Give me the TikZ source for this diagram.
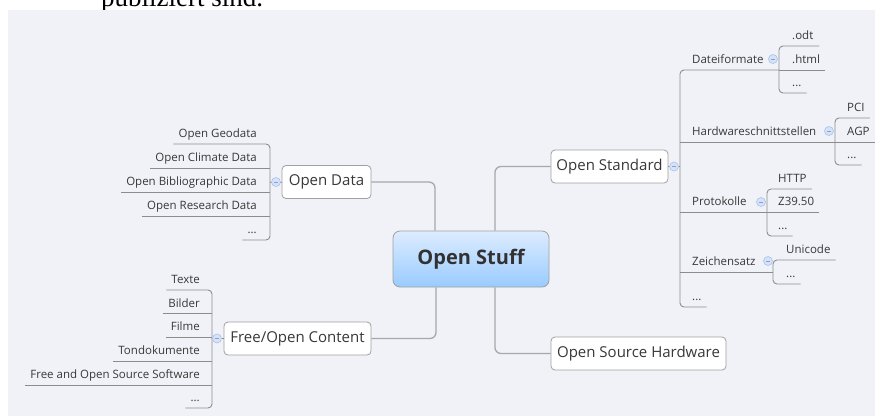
\documentclass[tikz,border=0pt]{standalone}
\usepackage{fontspec}
\newfontfamily\mmfont{Open Sans}
\newfontfamily\serfont{Liberation Serif}
\usetikzlibrary{calc}
\definecolor{bgc}{HTML}{F1F2F7}
\definecolor{connc}{HTML}{A8A8A8}
\definecolor{ulc}{HTML}{8C8C8C}
\definecolor{bordc}{HTML}{A0A0A0}
\definecolor{txtc}{HTML}{383838}
\definecolor{collf}{HTML}{D6E3F6}
\definecolor{colld}{HTML}{A9C2E8}
\definecolor{ctop}{HTML}{DDECFF}
\definecolor{cbot}{HTML}{99CBFF}
\tikzset{
  topic/.style={draw=bordc, fill=white, rounded corners=4pt, line width=0.8pt,
    font=\mmfont\fontsize{15}{18}\selectfont, text=txtc, inner sep=0pt, minimum height=33pt},
  centraltopic/.style={draw=bordc, top color=ctop, bottom color=cbot, rounded corners=7pt,
    line width=0.8pt, font=\mmfont\bfseries\fontsize{20}{24}\selectfont, text=txtc!90!black,
    inner sep=0pt, minimum width=156pt, minimum height=56pt},
  leaf/.style={font=\mmfont\fontsize{11.5}{13}\selectfont, text=txtc, inner xsep=5pt,
    inner ysep=3pt, text height=9pt, text depth=3pt},
  lleaf/.style={leaf, anchor=south east},
  rleaf/.style={leaf, anchor=south west},
  conn/.style={draw=connc, line width=1.3pt, rounded corners=6pt},
  uline/.style={draw=ulc, line width=0.9pt},
  collapse/.style={circle, fill=collf, draw=colld, line width=0.6pt, inner sep=0pt,
    minimum size=9pt,
    path picture={\draw[colld!80!blue, line width=0.8pt]
      ([xshift=-2.2pt]path picture bounding box.center) -- ([xshift=2.2pt]path picture bounding box.center);}},
}
\begin{document}
\begin{tikzpicture}[x=1pt,y=-1pt]
\useasboundingbox (0,0) rectangle (875,416);
\fill[white] (0,0) rectangle (875,416);
\begin{scope}
  \clip (0,0) rectangle (875,10);
  \node[anchor=base west, inner sep=0pt, font=\serfont\fontsize{27}{30}\selectfont] (pub) at (101,6.5) {publiziert sind.};
\end{scope}
\fill[bgc] (8,10) rectangle (875,416);

% main topics
\node[centraltopic] (central) at (471,259) {Open Stuff};
\node[topic, minimum width=89pt] (od) at (326.5,182) {Open Data};
\node[topic, minimum width=147pt] (foc) at (297.5,338.5) {Free/Open Content};
\node[topic, minimum width=117pt] (os) at (609.5,166.5) {Open Standard};
\node[topic, minimum width=175pt] (osh) at (638.5,353.5) {Open Source Hardware};

% main connectors
\draw[conn] (od.east) -| ([xshift=-36pt]central.north);
\draw[conn] (foc.east) -| ([xshift=-35pt]central.south);
\draw[conn] (os.west) -| ([xshift=24pt]central.north);
\draw[conn] (osh.west) -| ([xshift=24pt]central.south);

% ---------- Open Data ----------
\coordinate (odbar) at (270,182);
\node[lleaf] (od1) at (262,144) {Open Geodata};
\node[lleaf] (od2) at (262,168) {Open Climate Data};
\node[lleaf] (od3) at (262,192) {Open Bibliographic Data};
\node[lleaf] (od4) at (262,216) {Open Research Data};
\node[lleaf] (od5) at (262,240) {...};
\draw[uline, rounded corners=4pt] (od1.south west) -- (od1.south west -| odbar) -- (od5.south west -| odbar) -- (od5.south west);
\foreach \n in {od2,od3,od4} \draw[uline] (\n.south west) -- (\n.south west -| odbar);
\draw[uline] (od.west) -- (odbar);
\node[collapse] (odc) at (276,182) {};

% ---------- Free/Open Content ----------
\coordinate (focbar) at (212,338.5);
\node[lleaf] (fc1) at (205,290) {Texte};
\node[lleaf] (fc2) at (205,313.5) {Bilder};
\node[lleaf] (fc3) at (205,337) {Filme};
\node[lleaf] (fc4) at (205,361) {Tondokumente};
\node[lleaf] (fc5) at (205,385) {Free and Open Source Software};
\node[lleaf] (fc6) at (205,408) {...};
\draw[uline, rounded corners=4pt] (fc1.south west) -- (fc1.south west -| focbar) -- (fc6.south west -| focbar) -- (fc6.south west);
\foreach \n in {fc2,fc3,fc4,fc5} \draw[uline] (\n.south west) -- (\n.south west -| focbar);
\draw[uline] (foc.west) -- (focbar);
\node[collapse] (focc) at (217,338.5) {};

% ---------- Open Standard ----------
\coordinate (osbar) at (680,166.5);
\coordinate (dfbar) at (779,70);
\coordinate (hwbar) at (835,142);
\coordinate (prbar) at (767,212);
\coordinate (zsbar) at (773,272);
\node[rleaf] (df) at (687,70) {Dateiformate};
\node[rleaf] (hw) at (687,142) {Hardwareschnittstellen};
\node[rleaf] (pr) at (687,212) {Protokolle};
\node[rleaf] (zs) at (687,272) {Zeichensatz};
\node[rleaf] (osl) at (687,307) {...};
\draw[uline, rounded corners=4pt] (df.south -| dfbar) -- (df.south -| osbar) -- (osl.south -| osbar) -- (osl.south east);
\draw[uline] (hw.south -| osbar) -- (hw.south -| hwbar);
\draw[uline] (pr.south -| osbar) -- (pr.south -| prbar);
\draw[uline] (zs.south -| osbar) -- (zs.south -| zsbar);
\draw[uline] (os.east) -- (osbar);
\node[collapse] (osc) at (674,166.5) {};

% Dateiformate
\node[rleaf, text width=22pt, align=left] (odt) at (787,46) {.odt};
\node[rleaf] (html) at (787,70) {.html};
\node[rleaf] (dfd) at (787,93) {...};
\draw[uline, rounded corners=4pt] (odt.south east) -- (odt.south -| dfbar) -- (dfd.south -| dfbar) -- (dfd.south east);
\draw[uline] (html.south -| dfbar) -- (html.south east);
\node[collapse] (dfc) at (773,59) {};

% Hardwareschnittstellen
\node[rleaf] (pci) at (842,118) {PCI};
\node[rleaf, text width=30pt, align=left] (agp) at (842,142) {AGP};
\node[rleaf] (hwd) at (842,165) {...};
\draw[uline, rounded corners=4pt] (pci.south east) -- (pci.south -| hwbar) -- (hwd.south -| hwbar) -- (hwd.south east);
\draw[uline] (agp.south -| hwbar) -- (agp.south east);
\node[collapse] (hwc) at (829,131) {};

% Protokolle
\node[rleaf] (http) at (773,189) {HTTP};
\node[rleaf] (z39) at (773,212) {Z39.50};
\node[rleaf] (prd) at (773,236) {...};
\draw[uline, rounded corners=4pt] (http.south east) -- (http.south -| prbar) -- (prd.south -| prbar) -- (prd.south east);
\draw[uline] (z39.south -| prbar) -- (z39.south east);
\node[collapse] (prc) at (761,202) {};

% Zeichensatz
\node[rleaf] (uni) at (781,260) {Unicode};
\node[rleaf] (zsd) at (781,284) {...};
\draw[uline, rounded corners=4pt] (uni.south east) -- (uni.south -| zsbar) -- (zsd.south -| zsbar) -- (zsd.south east);
\node[collapse] (zsc) at (768,261) {};
\end{tikzpicture}
\end{document}
